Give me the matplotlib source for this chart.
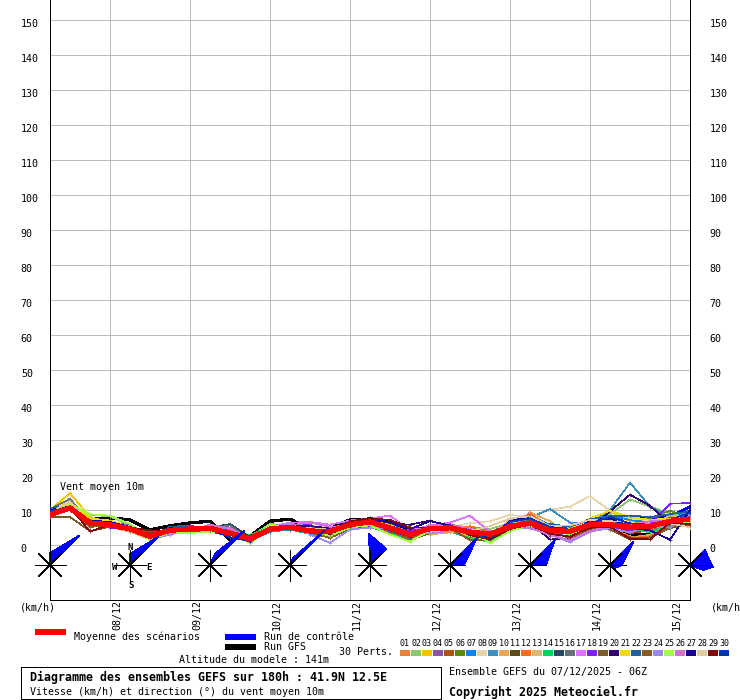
import matplotlib
matplotlib.use("Agg")
import matplotlib.pyplot as plt
import numpy as np
from matplotlib.patches import Polygon, Rectangle
from matplotlib.transforms import Affine2D, IdentityTransform

plt.rcParams['font.family'] = ['DejaVu Sans Mono']

# forecast hours since the start of the run, one value every 6 h
hours = np.arange(33) * 6

mean_run = [8.7, 10.6, 6.3, 5.8, 4.6, 2.5, 4.2, 4.6, 4.8, 3.4, 1.8, 4.6, 5.1, 4.0, 3.9, 5.8, 6.6,
            4.9, 3.0, 4.7, 4.9, 3.7, 3.1, 5.3, 6.3, 4.2, 3.9, 5.8, 5.8, 5.1, 5.3, 6.8, 7.4]
control_run = [9.5, 10.5, 6.5, 6.0, 5.0, 2.5, 4.5, 4.8, 4.5, 3.0, 2.0, 4.5, 5.5, 4.5, 4.5, 5.5, 6.5,
               5.5, 2.0, 5.2, 5.5, 3.0, 2.5, 6.0, 7.5, 5.0, 4.5, 6.5, 7.5, 7.8, 7.5, 8.0, 11.0]
gfs_run = [9.0, 10.5, 7.3, 7.7, 7.2, 4.3, 5.5, 6.3, 6.8, 1.5, 2.5, 6.8, 7.4, 4.4, 4.6, 7.2, 7.4,
           6.8, 3.5, 5.0, 5.2, 3.5, 2.5, 6.2, 7.3, 5.5, 5.0, 6.3, 6.0, 3.2, 2.8, 6.0, 6.5]

# the 30 perturbed members
p01 = [9.2, 11.0, 6.8, 6.2, 5.0, 2.2, 3.8, 4.2, 4.4, 3.8, 1.2, 4.4, 5.4, 4.6, 3.2, 5.2, 6.2, 5.6, 3.4, 3.8, 4.2, 3.2, 2.4, 4.8, 6.8, 4.8, 3.2, 5.2, 5.0, 2.4, 2.6, 5.6, 6.4]
p02 = [9.8, 11.4, 8.6, 8.2, 5.6, 2.0, 4.6, 4.2, 5.2, 4.0, 2.4, 6.0, 5.6, 4.8, 3.0, 6.2, 6.4, 4.0, 2.4, 5.0, 4.4, 4.2, 4.6, 6.2, 7.2, 5.0, 4.2, 6.6, 8.8, 13.0, 11.0, 9.0, 8.2]
p03 = [10.0, 14.8, 8.0, 6.4, 4.8, 3.0, 4.0, 5.0, 5.2, 3.2, 0.8, 5.0, 5.4, 3.6, 4.0, 5.6, 7.0, 5.2, 3.2, 4.4, 5.4, 4.6, 2.0, 5.8, 6.0, 3.8, 3.6, 6.6, 9.6, 6.8, 6.2, 6.4, 6.8]
p04 = [8.4, 10.0, 5.6, 5.4, 4.2, 2.6, 3.6, 4.8, 4.2, 3.0, 2.2, 4.2, 5.6, 4.4, 2.6, 5.8, 6.0, 3.6, 2.6, 5.2, 4.6, 2.4, 1.8, 5.4, 6.6, 3.4, 2.2, 5.4, 6.2, 4.4, 4.0, 6.0, 9.0]
p05 = [9.0, 10.8, 6.0, 6.4, 5.2, 2.8, 4.4, 4.4, 5.0, 3.6, 1.6, 4.8, 4.8, 3.8, 3.0, 5.0, 6.8, 5.0, 2.2, 4.2, 4.8, 3.0, 2.8, 5.0, 8.0, 4.4, 3.0, 6.0, 5.2, 3.4, 4.2, 7.2, 6.0]
p06 = [8.8, 11.8, 7.0, 6.6, 5.4, 2.2, 4.2, 4.0, 4.6, 4.2, 2.0, 5.6, 6.0, 5.2, 2.4, 5.4, 5.8, 4.6, 2.8, 4.6, 5.8, 5.0, 3.6, 5.2, 5.6, 3.6, 4.8, 5.8, 5.4, 6.2, 7.6, 9.8, 7.8]
p07 = [10.4, 11.2, 6.6, 5.8, 4.4, 2.4, 4.8, 5.2, 4.2, 2.8, 1.4, 4.0, 4.6, 3.4, 3.8, 6.4, 7.2, 5.8, 3.6, 5.4, 4.2, 2.8, 2.4, 6.4, 8.6, 5.6, 4.6, 7.0, 8.4, 7.2, 6.4, 7.4, 10.0]
p08 = [9.4, 12.6, 6.4, 6.0, 4.6, 2.0, 3.6, 4.6, 5.0, 3.4, 2.6, 5.2, 5.0, 4.2, 4.4, 5.8, 6.0, 4.4, 3.2, 5.8, 5.2, 6.2, 6.8, 8.6, 8.0, 10.0, 11.0, 14.0, 9.8, 7.6, 7.0, 6.2, 6.0]
p09 = [8.6, 10.2, 7.4, 6.8, 4.2, 1.8, 4.0, 3.8, 4.0, 3.0, 1.0, 3.8, 4.4, 3.2, 2.2, 5.0, 5.6, 3.4, 1.6, 4.0, 3.8, 2.0, 3.4, 6.6, 7.8, 10.3, 6.4, 6.0, 10.0, 17.8, 11.0, 8.0, 5.2]
p10 = [9.0, 10.4, 6.2, 5.2, 3.8, 1.6, 3.4, 4.4, 4.6, 3.6, 2.2, 4.6, 5.2, 4.4, 3.6, 6.0, 6.6, 5.4, 3.8, 3.0, 3.6, 3.8, 3.2, 4.6, 9.4, 6.8, 2.8, 4.2, 4.8, 1.8, 3.0, 5.2, 7.0]
p11 = [9.6, 11.2, 5.8, 6.2, 5.0, 3.4, 4.6, 5.0, 5.4, 3.2, 1.8, 4.2, 5.2, 3.8, 4.2, 6.4, 7.0, 6.0, 2.6, 4.4, 5.0, 1.6, 1.2, 4.4, 5.8, 3.0, 2.6, 5.0, 5.6, 3.8, 4.6, 6.6, 5.8]
p12 = [8.8, 10.6, 6.6, 5.6, 4.8, 2.6, 3.8, 4.2, 4.8, 3.8, 2.4, 5.0, 4.8, 4.8, 4.6, 5.2, 6.4, 4.2, 3.4, 3.8, 4.0, 5.4, 4.0, 4.2, 9.0, 5.2, 4.0, 5.6, 4.6, 2.0, 2.4, 6.2, 7.4]
p13 = [9.4, 12.0, 7.8, 6.2, 4.4, 2.2, 4.4, 4.6, 4.4, 3.0, 1.6, 4.8, 5.6, 4.2, 3.4, 6.0, 7.2, 5.6, 3.0, 5.4, 5.6, 4.0, 2.8, 7.2, 7.0, 4.4, 4.2, 6.8, 6.4, 5.6, 6.6, 8.2, 8.6]
p14 = [9.0, 10.8, 7.2, 6.0, 5.2, 1.8, 4.2, 3.6, 4.0, 4.4, 2.8, 5.4, 6.2, 5.0, 2.8, 4.8, 5.2, 3.2, 2.2, 5.6, 5.0, 2.2, 0.8, 5.0, 5.4, 3.6, 3.4, 5.2, 5.8, 4.8, 3.6, 5.8, 5.6]
p15 = [8.6, 11.6, 6.0, 5.8, 4.0, 2.8, 4.0, 4.8, 5.0, 6.0, 2.2, 4.4, 5.0, 3.4, 3.2, 5.6, 6.2, 5.0, 2.0, 4.8, 5.2, 3.4, 3.0, 5.6, 6.8, 5.8, 4.6, 6.2, 7.0, 5.8, 5.0, 7.8, 6.6]
p16 = [10.2, 13.2, 6.4, 6.6, 5.6, 3.2, 4.8, 5.4, 4.6, 5.6, 1.4, 4.2, 4.8, 4.0, 3.8, 5.8, 6.8, 5.4, 3.6, 4.6, 4.4, 4.4, 2.6, 5.4, 7.4, 4.0, 4.4, 6.4, 5.2, 6.0, 5.6, 6.6, 8.0]
p17 = [8.2, 10.0, 6.2, 6.4, 4.8, 2.4, 4.6, 4.4, 5.4, 4.6, 2.0, 5.2, 6.4, 6.6, 5.8, 7.0, 7.6, 8.4, 4.2, 5.6, 6.4, 8.4, 3.8, 4.8, 6.4, 3.2, 1.2, 4.6, 5.0, 4.6, 6.4, 7.0, 9.4]
p18 = [9.2, 10.6, 5.4, 5.0, 4.2, 2.0, 3.2, 4.0, 4.2, 3.2, 1.8, 4.0, 5.8, 5.8, 3.4, 6.2, 5.4, 4.8, 4.0, 5.2, 5.6, 3.6, 3.4, 5.8, 6.6, 2.6, 3.6, 5.6, 5.2, 4.2, 5.8, 11.8, 12.0]
p19 = [8.0, 8.0, 4.0, 5.2, 4.4, 3.0, 4.4, 4.8, 4.4, 3.4, 2.6, 4.4, 5.0, 3.8, 3.6, 5.4, 6.0, 4.4, 1.4, 3.4, 4.6, 3.0, 3.0, 5.0, 5.2, 3.6, 3.2, 4.8, 4.4, 1.6, 2.2, 4.8, 6.2]
p20 = [9.6, 11.0, 6.8, 5.6, 4.6, 3.6, 3.8, 5.2, 5.2, 3.8, 1.2, 4.6, 5.4, 5.4, 4.8, 6.6, 7.4, 6.2, 5.8, 7.0, 5.0, 3.4, 2.0, 5.6, 6.2, 1.6, 1.8, 5.0, 9.6, 14.4, 11.2, 6.0, 5.4]
p21 = [9.8, 12.2, 7.6, 7.0, 5.0, 2.6, 4.2, 4.6, 4.8, 3.6, 0.6, 4.8, 5.0, 4.6, 4.0, 6.2, 6.8, 5.8, 3.0, 4.2, 4.4, 2.6, 3.6, 6.0, 6.6, 4.6, 4.8, 7.6, 9.8, 8.0, 7.2, 7.6, 6.8]
p22 = [10.6, 11.4, 6.6, 5.8, 5.4, 2.2, 5.2, 5.6, 4.0, 2.4, 1.0, 4.2, 5.2, 4.2, 3.4, 5.4, 6.6, 5.2, 2.2, 5.0, 5.4, 4.6, 2.8, 5.2, 7.0, 6.0, 5.2, 7.4, 8.2, 8.4, 8.0, 8.8, 9.6]
p23 = [8.8, 10.2, 5.2, 5.4, 4.6, 3.8, 4.2, 4.2, 4.6, 3.2, 2.4, 4.6, 4.6, 3.6, 2.0, 4.6, 5.8, 3.8, 1.8, 4.4, 4.8, 1.4, 1.6, 4.4, 5.6, 3.8, 2.0, 4.4, 4.6, 2.2, 1.8, 5.4, 5.8]
p24 = [9.0, 11.0, 6.4, 6.4, 5.4, 1.6, 3.0, 4.4, 5.6, 4.2, 2.2, 5.0, 5.8, 3.0, 0.6, 4.4, 5.0, 4.6, 3.2, 3.4, 4.0, 3.6, 3.8, 5.0, 4.8, 3.0, 0.8, 3.8, 4.8, 3.6, 5.4, 5.0, 8.8]
p25 = [9.4, 11.6, 8.8, 8.4, 6.0, 1.4, 3.6, 3.4, 3.8, 3.4, 1.6, 5.8, 5.2, 4.4, 2.6, 5.0, 5.6, 3.0, 1.0, 4.2, 4.6, 3.8, 0.6, 4.0, 5.6, 4.2, 3.0, 5.4, 5.6, 5.0, 4.6, 6.4, 6.6]
p26 = [8.4, 10.4, 6.0, 6.0, 4.8, 2.8, 4.6, 4.2, 5.8, 4.8, 1.8, 4.4, 5.6, 6.4, 5.2, 5.6, 6.2, 4.8, 3.4, 5.8, 5.8, 4.8, 3.2, 5.6, 5.0, 2.8, 1.4, 4.0, 5.4, 5.6, 6.8, 6.8, 7.6]
p27 = [10.0, 11.0, 7.0, 6.6, 5.2, 3.0, 4.8, 5.0, 5.0, 3.0, 1.4, 4.4, 4.8, 4.0, 4.2, 6.6, 7.8, 6.4, 4.6, 6.8, 5.6, 3.2, 2.2, 6.8, 8.2, 4.8, 3.8, 6.8, 7.8, 4.8, 4.2, 1.5, 10.0]
p28 = [9.2, 12.4, 6.2, 5.6, 4.0, 2.0, 3.8, 4.6, 4.2, 2.6, 2.0, 4.8, 5.2, 4.8, 4.4, 6.0, 6.2, 4.6, 2.6, 4.0, 4.2, 4.0, 5.4, 7.6, 8.2, 5.4, 5.6, 7.2, 6.8, 6.6, 5.2, 6.2, 5.0]
p29 = [8.6, 10.8, 3.9, 5.8, 5.0, 4.2, 4.0, 4.4, 4.8, 3.6, 2.6, 4.6, 5.0, 3.6, 3.2, 6.8, 7.6, 7.2, 5.0, 5.0, 5.2, 2.8, 1.6, 4.6, 5.8, 3.2, 2.4, 5.0, 5.2, 1.8, 1.6, 6.4, 6.0]
p30 = [9.8, 10.6, 6.8, 5.4, 4.4, 2.4, 4.4, 5.0, 4.4, 2.2, 1.2, 4.2, 4.6, 3.8, 3.8, 5.2, 6.4, 4.2, 2.4, 4.6, 5.0, 3.2, 2.2, 6.6, 7.6, 5.2, 4.4, 6.2, 8.0, 6.2, 5.8, 7.2, 9.2]
perts = [p01, p02, p03, p04, p05, p06, p07, p08, p09, p10, p11, p12, p13, p14, p15,
         p16, p17, p18, p19, p20, p21, p22, p23, p24, p25, p26, p27, p28, p29, p30]
pert_colors = ['#E8833A', '#8BC96E', '#F5C400', '#8C52A8', '#B0520F', '#5A8A0A', '#0A84FF', '#E8D4AA',
               '#3D8FC0', '#E8A858', '#5C4A1A', '#FF6A1F', '#D0BC78', '#00D660', '#234A60', '#667078',
               '#E070FF', '#7B20FF', '#7A5C2A', '#300070', '#F0DC00', '#2060A0', '#8A5A22', '#9C88F0',
               '#A0FF40', '#D070D8', '#180098', '#E0CCA0', '#800808', '#0030C0']

# wind petals, one every 24 h: edge bearings (deg) and their reach, third edge only where the petal bulges
wind_hours = [0, 24, 48, 72, 96, 120, 144, 168, 192]
bearing_a = [0, 0, 25, 25, 358, 45, 45, 45, 45]
bearing_b = [45, 45, 45, 45, 45, 90, 90, 90, 95]
bearing_c = [0, 0, 0, 0, 0, 0, 0, 120, 111]
reach_a = [12, 11, 13, 8, 31, 38, 35, 33, 21]
reach_b = [42, 40, 49, 49, 23, 14, 16, 12, 23]
reach_c = [0, 0, 0, 0, 0, 0, 0, 6, 14]

date_ticks = [18, 42, 66, 90, 114, 138, 162, 186]
date_labels = ['08/12', '09/12', '10/12', '11/12', '12/12', '13/12', '14/12', '15/12']
speed_ticks = list(range(0, 151, 10))

PX = 0.72  # one picture pixel as a line width


def ftext(x, y, s, **kw):
    # place a text from picture pixels
    kw.setdefault('fontsize', 7.2)
    kw.setdefault('va', 'center')
    fig.text(x / 740, 1 - y / 700, s, **kw)


def fline(x0, x1, y, color, lw):
    fig.add_artist(plt.Line2D([x0 / 740, x1 / 740], [1 - y / 700] * 2, color=color, lw=lw,
                              solid_capstyle='butt', antialiased=False))


fig = plt.figure(figsize=(7.4, 7.0), dpi=100)
ax = fig.add_axes([50 / 740, 100 / 700, 640 / 740, 600 / 700])
ax.set_xlim(0, 192)
ax.set_ylim(-15.71, 155.71)
ax.set_axisbelow(True)
ax.grid(True, color='#BBBBBB', lw=PX, antialiased=False)
ax.spines['top'].set_visible(False)
for side in ['left', 'right', 'bottom']:
    ax.spines[side].set_linewidth(PX)
    ax.spines[side].set_antialiased(False)

ax.set_xticks(date_ticks)
ax.set_xticklabels(date_labels, rotation=90, fontsize=7.2, va='top', ha='center')
ax.set_yticks(speed_ticks)
ax.set_yticklabels([str(v) for v in speed_ticks], fontsize=7.2, ha='left')
ax.tick_params(axis='both', length=0)
ax.tick_params(axis='x', pad=0)
ax.tick_params(axis='y', pad=21)
for lab in ax.get_xticklabels():
    lab.set_transform(lab.get_transform() + Affine2D().translate(7, 0))
for lab in ax.get_yticklabels():
    lab.set_transform(lab.get_transform() + Affine2D().translate(0, -3))

ax2 = ax.twinx()
ax2.set_ylim(ax.get_ylim())
ax2.set_yticks(speed_ticks)
ax2.set_yticklabels([str(v) for v in speed_ticks], fontsize=7.2)
ax2.tick_params(axis='y', length=0, pad=14)
for lab in ax2.get_yticklabels():
    lab.set_transform(lab.get_transform() + Affine2D().translate(0, -3))
for s in ax2.spines.values():
    s.set_visible(False)

# control and GFS go under the members, the mean stays on top
ax.plot(hours, control_run, color='#0000FF', lw=1.3, antialiased=False, zorder=2.5)
ax.plot(hours, gfs_run, color='black', lw=1.6, antialiased=False, zorder=2.6)
for row, col in zip(perts, pert_colors):
    ax.plot(hours, row, color=col, lw=0.45, marker='+', ms=2.5, mew=0.45, antialiased=False, zorder=3)
ax.plot(hours, mean_run, color='#FF0000', lw=3.0, antialiased=False, zorder=6)

# wind petals and compass roses, sized in pixels around each data anchor
px = IdentityTransform()
rose_y = ax.transData.inverted().transform((0, 135))[1]  # 565 px from the top
arm_dirs = np.deg2rad(np.arange(0, 360, 45))
for i, h in enumerate(wind_hours):
    cx, cy = ax.transData.transform((h, rose_y))
    a, b, c = np.deg2rad([bearing_a[i], bearing_b[i], bearing_c[i]])
    pts = [(cx, cy),
           (cx + reach_a[i] * np.sin(a), cy + reach_a[i] * np.cos(a)),
           (cx + reach_b[i] * np.sin(b), cy + reach_b[i] * np.cos(b)),
           (cx + reach_c[i] * np.sin(c), cy + reach_c[i] * np.cos(c))]
    ax.add_patch(Polygon(pts, closed=True, fc='#0000FF', ec='#0000FF', lw=0.45, transform=px,
                         clip_on=False, zorder=7, antialiased=False))
    for k, d in enumerate(arm_dirs):
        arm = 15.5 if k % 2 == 0 else 16
        ax.plot([cx, cx + arm * np.sin(d)], [cy, cy + arm * np.cos(d)], color='black', lw=0.45,
                transform=px, clip_on=False, zorder=8, antialiased=False)

# cardinal letters on the second rose
ftext(130, 547, 'N', fontsize=6.5, ha='center', weight='bold')
ftext(149, 567, 'E', fontsize=6.5, ha='center', weight='bold')
ftext(131, 586, 'S', fontsize=6.5, ha='center', weight='bold')
ftext(115, 567, 'W', fontsize=6.5, ha='center', weight='bold')

ftext(60, 487, 'Vent moyen 10m')
ftext(20, 607, '(km/h)')
ftext(711, 607, '(km/h)')

# legend block under the axes
fline(35, 66, 632, '#FF0000', 3)
ftext(74, 637, 'Moyenne des scénarios')
fline(225, 256, 637, '#0000FF', 3)
ftext(264, 637, 'Run de contrôle')
fline(225, 256, 647, 'black', 3)
ftext(264, 647, 'Run GFS')
ftext(339, 652, '30 Perts.')
ftext(179, 660, 'Altitude du modele : 141m')

for i, col in enumerate(pert_colors):
    x = 400 + i * 11
    fig.add_artist(Rectangle((x / 740, 1 - 656 / 700), 10 / 740, 6 / 700, fc=col, ec='none',
                             transform=fig.transFigure, antialiased=False))
    ftext(x + 5, 644, '%02d' % (i + 1), fontsize=6.0, ha='center')

fig.add_artist(Rectangle((20.5 / 740, 1 - 699 / 700), 420 / 740, 32 / 700, fc='none', ec='black', lw=PX,
                         transform=fig.transFigure, antialiased=False))
ftext(30, 677, 'Diagramme des ensembles GEFS sur 180h : 41.9N 12.5E', fontsize=8.4, weight='bold')
ftext(30, 692, 'Vitesse (km/h) et direction (°) du vent moyen 10m')
ftext(449, 672, 'Ensemble GEFS du 07/12/2025 - 06Z')
ftext(449, 692, 'Copyright 2025 Meteociel.fr', fontsize=8.4, weight='bold')

fig.savefig('out.png', dpi=100, facecolor='white')
